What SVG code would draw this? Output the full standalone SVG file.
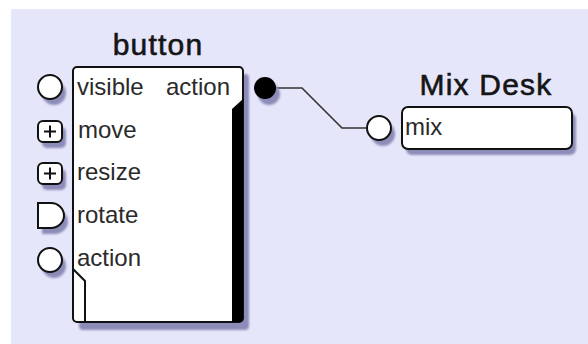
<svg xmlns="http://www.w3.org/2000/svg" width="588" height="344" viewBox="0 0 588 344">
<defs>
<filter id="sh" x="-30%" y="-30%" width="160%" height="160%"><feGaussianBlur stdDeviation="1.3"/></filter>
</defs>
<style>
.title{font-family:"Liberation Sans",Arial,sans-serif;font-size:30px;fill:#151515;stroke:#151515;stroke-width:0.6px;text-anchor:middle;letter-spacing:1.2px}
.lbl{font-family:"Liberation Sans",Arial,sans-serif;font-size:24px;fill:#2a2a2a}
.box{fill:#fff;stroke:#111;stroke-width:2}
.port{fill:#fff;stroke:#111;stroke-width:2}
.shadow{fill:#8c8cb8;filter:url(#sh)}
.wire{fill:none;stroke:#333;stroke-width:1.6}
</style>
<rect width="588" height="344" fill="#fff"/>
<rect x="11" y="9" width="577" height="335" fill="#e6e6fa"/>

<g id="connectors">
<path class="wire" d="M276,88 H302 L342,128 H367"/>
</g>

<g id="node-button">
<text class="title" x="158" y="55">button</text>
<rect class="shadow" x="79" y="74" width="170" height="256" rx="4"/>
<rect class="box" x="73" y="67" width="170" height="255" rx="4"/>
<path d="M243,99 L232,109 V322 H239 Q243,322 243,318 Z" fill="#000"/>
<path d="M73,269 L85,281 V322" fill="none" stroke="#111" stroke-width="2"/>
<text class="lbl" x="77" y="95">visible</text>
<text class="lbl" x="230" y="95" text-anchor="end">action</text>
<text class="lbl" x="78" y="138">move</text>
<text class="lbl" x="77" y="180">resize</text>
<text class="lbl" x="77" y="223">rotate</text>
<text class="lbl" x="77" y="266">action</text>
</g>

<g id="port-visible">
<circle class="shadow" cx="54" cy="93" r="12"/>
<circle class="port" cx="50" cy="87" r="12"/>
</g>
<g id="port-move">
<rect class="shadow" x="42" y="127" width="24" height="21" rx="5"/>
<rect class="port" x="38" y="121" width="24" height="21" rx="5"/>
<path d="M44,131.5 H56 M50,125.5 V137.5" stroke="#111" stroke-width="2"/>
</g>
<g id="port-resize">
<rect class="shadow" x="42" y="169" width="24" height="21" rx="5"/>
<rect class="port" x="38" y="163" width="24" height="21" rx="5"/>
<path d="M44,173.5 H56 M50,167.5 V179.5" stroke="#111" stroke-width="2"/>
</g>
<g id="port-rotate">
<path class="shadow" d="M42,209 H55 A13,12.5 0 0 1 55,234 H42 Z"/>
<path class="port" d="M38,203 H51 A13,12.5 0 0 1 51,228 H38 Z"/>
</g>
<g id="port-action-in">
<circle class="shadow" cx="54" cy="266" r="12"/>
<circle class="port" cx="50" cy="260" r="12"/>
</g>
<g id="port-action-out">
<circle class="shadow" cx="269" cy="94" r="11"/>
<circle cx="265" cy="88" r="11" fill="#000"/>
</g>

<g id="node-mixdesk">
<text class="title" x="486" y="95">Mix Desk</text>
<rect class="shadow" x="406" y="113" width="170" height="42" rx="6"/>
<rect class="box" x="402" y="107" width="170" height="42" rx="6"/>
<text class="lbl" x="405" y="135">mix</text>
</g>
<g id="port-mix">
<circle class="shadow" cx="383" cy="134" r="12"/>
<circle class="port" cx="379" cy="128" r="12"/>
</g>
</svg>
